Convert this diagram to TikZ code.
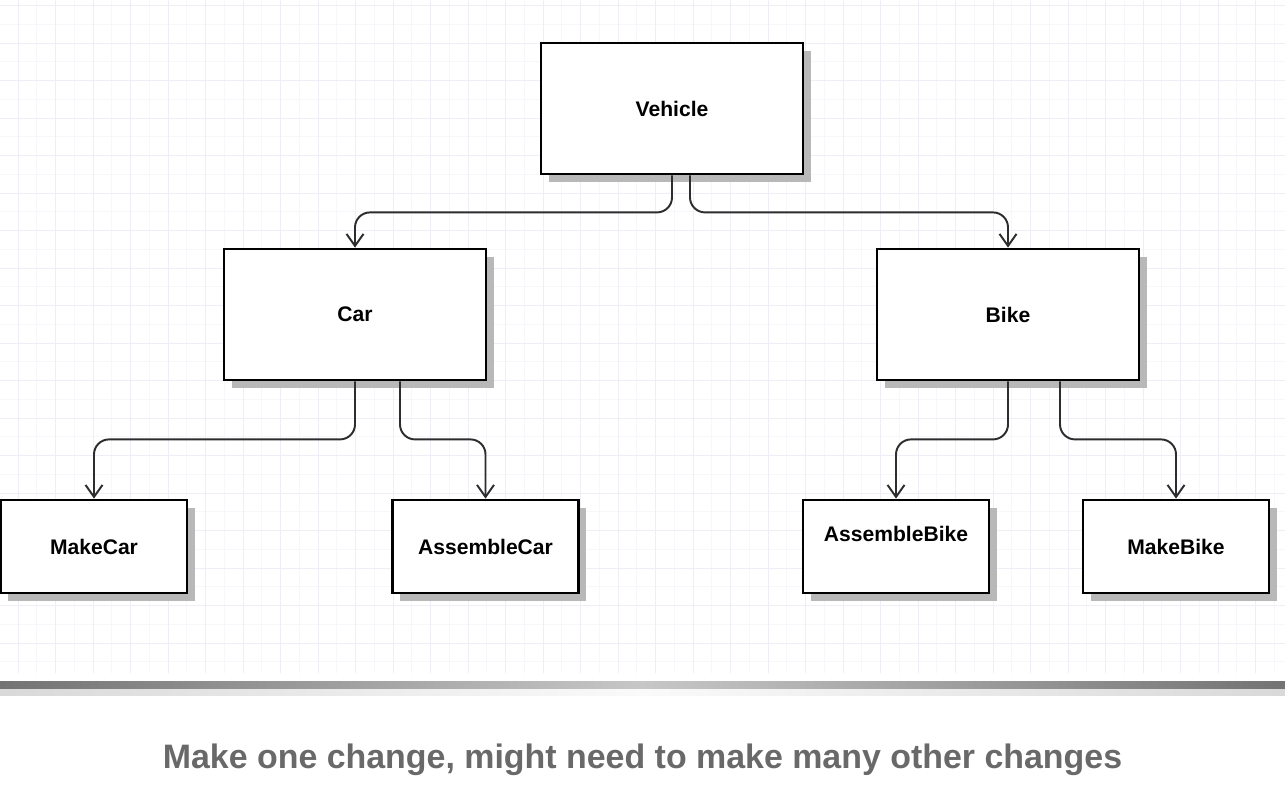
\documentclass[tikz,border=0pt]{standalone}
\usepackage{fontspec}
\setsansfont{Liberation Sans}
\usetikzlibrary{arrows}
\usetikzlibrary{arrows.meta}
\usetikzlibrary{positioning}
\usetikzlibrary{shadows}

\definecolor{gridgray}{RGB}{238,238,246}
\definecolor{gridlight}{RGB}{246,246,251}
\definecolor{capgray}{RGB}{105,105,105}
\definecolor{linegray}{RGB}{45,45,45}

\tikzset{
    box/.style={draw=black, line width=1.6pt, fill=white,
        font=\sffamily\bfseries\fontsize{12}{14}\selectfont,
        drop shadow={shadow xshift=0.15cm, shadow yshift=-0.15cm, fill=black!28, opacity=1}},
    bigbox/.style={box, minimum width=5.24cm, minimum height=2.62cm},
    smallbox/.style={box, minimum width=3.72cm, minimum height=1.86cm},
    conn/.style={draw=linegray, line width=1.1pt, rounded corners=0.3cm,
        -{Straight Barb[length=0.24cm, width=0.34cm]}},
}

\begin{document}
\begin{tikzpicture}
        \useasboundingbox (0, 0) rectangle (25.7, -15.76);
        \fill[white] (0, 0) rectangle (25.7, -15.76);

        % background grid
        \begin{scope}[shift={(0.36, -0.86)}]
            \draw[gridlight, line width=0.5pt, step=0.375] (-0.36, 0.86) grid (25.34, -12.6);
            \draw[gridgray, line width=0.5pt, step=0.75] (-0.36, 0.86) grid (25.34, -12.6);
        \end{scope}

        % boxes
        \node[bigbox] (vehicle) at (13.44, -2.17) {Vehicle};
        \node[bigbox] (car) at (7.10, -6.29) {Car};
        \node[bigbox] (bike) at (20.16, -6.29) {Bike};

        \node[smallbox] (makecar) at (1.88, -10.93) {MakeCar};
        \node[smallbox] (assemblecar) at (9.71, -10.93) {AssembleCar};
        \node[smallbox, text depth=0.52cm] (assemblebike) at (17.92, -10.93) {AssembleBike};
        \node[smallbox] (makebike) at (23.52, -10.93) {MakeBike};

        % connectors
        \draw[conn] (vehicle.south) -- ++(0, -0.74) -| (car.north);
        \draw[conn] ([xshift=0.36cm]vehicle.south) -- ++(0, -0.74) -| (bike.north);

        \draw[conn] (car.south) -- ++(0, -1.16) -| (makecar.north);
        \draw[conn] ([xshift=0.9cm]car.south) -- ++(0, -1.16) -| (assemblecar.north);

        \draw[conn] (bike.south) -- ++(0, -1.16) -| (assemblebike.north);
        \draw[conn] ([xshift=1.04cm]bike.south) -- ++(0, -1.16) -| (makebike.north);

        % separator
        \shade[left color=black!15, right color=black!15, middle color=black!2] (0, -13.74) rectangle (25.7, -13.9);
        \shade[left color=black!55, right color=black!55, middle color=black!22] (0, -13.63) rectangle (25.7, -13.76);

        % caption
        \node[font=\sffamily\bfseries\fontsize{19.3}{22}\selectfont, text=capgray] (caption) at (12.85, -15.2) {Make one change, might need to make many other changes};
    \end{tikzpicture}
\end{document}
